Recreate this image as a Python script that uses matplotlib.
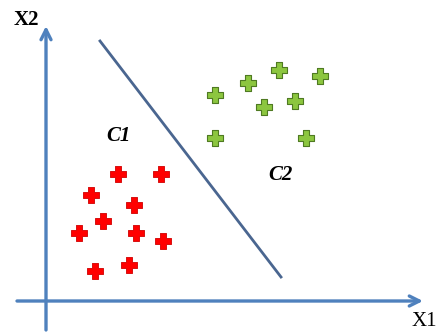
import matplotlib

matplotlib.use("Agg")
import matplotlib.pyplot as plt
from matplotlib.path import Path

# values (pixel-like units, y grows downward)
c1_x = [118, 161, 91, 134, 103, 79, 136, 163, 95, 129]
c1_y = [174, 174, 195, 205, 221, 233, 233, 241, 271, 265]
c2_x = [279, 320, 248, 215, 264, 295, 215, 306]
c2_y = [70, 76, 83, 95, 107, 101, 138, 138]
sep_x = [100, 281]
sep_y = [41, 277]

AXIS_C, SEP_C = "#4f81bd", "#4a6690"

# chunky plus: arms are a bit thicker than matplotlib's "P"
w, L = 0.2, 0.5
PLUS = Path([(-w, L), (w, L), (w, w), (L, w), (L, -w), (w, -w), (w, -L),
             (-w, -L), (-w, -w), (-L, -w), (-L, w), (-w, w), (-w, L)])

fig = plt.figure(figsize=(4.36, 3.34), dpi=100)
ax = fig.add_axes([0, 0, 1, 1])
ax.set_xlim(0, 436)
ax.set_ylim(334, 0)
ax.axis("off")

arrow = dict(arrowstyle="->", color=AXIS_C, lw=2.4, mutation_scale=18, shrinkA=0, shrinkB=0)
ax.annotate("", xy=(46, 26), xytext=(46, 330), arrowprops=arrow)
ax.annotate("", xy=(423, 301), xytext=(17, 301), arrowprops=arrow)

ax.plot(sep_x, sep_y, color=SEP_C, lw=2)

ax.plot(c1_x, c1_y, ls="none", marker=PLUS, ms=11, mfc="#ff0000", mec="#d00000", mew=0.6)
ax.plot(c2_x, c2_y, ls="none", marker=PLUS, ms=11, mfc="#8cc63f", mec="#4f7a22", mew=0.8)

ax.text(118, 136, "C1", fontsize=15, family="Liberation Serif", style="italic",
        weight="bold", ha="center", va="center")
ax.text(280, 175, "C2", fontsize=15, family="Liberation Serif", style="italic",
        weight="bold", ha="center", va="center")
ax.text(26, 20, "X2", fontsize=15, family="Liberation Serif", weight="bold",
        ha="center", va="center")
ax.text(412, 322, "X1", fontsize=15, family="Liberation Serif", ha="left", va="center")

fig.savefig("out.png", dpi=100)
